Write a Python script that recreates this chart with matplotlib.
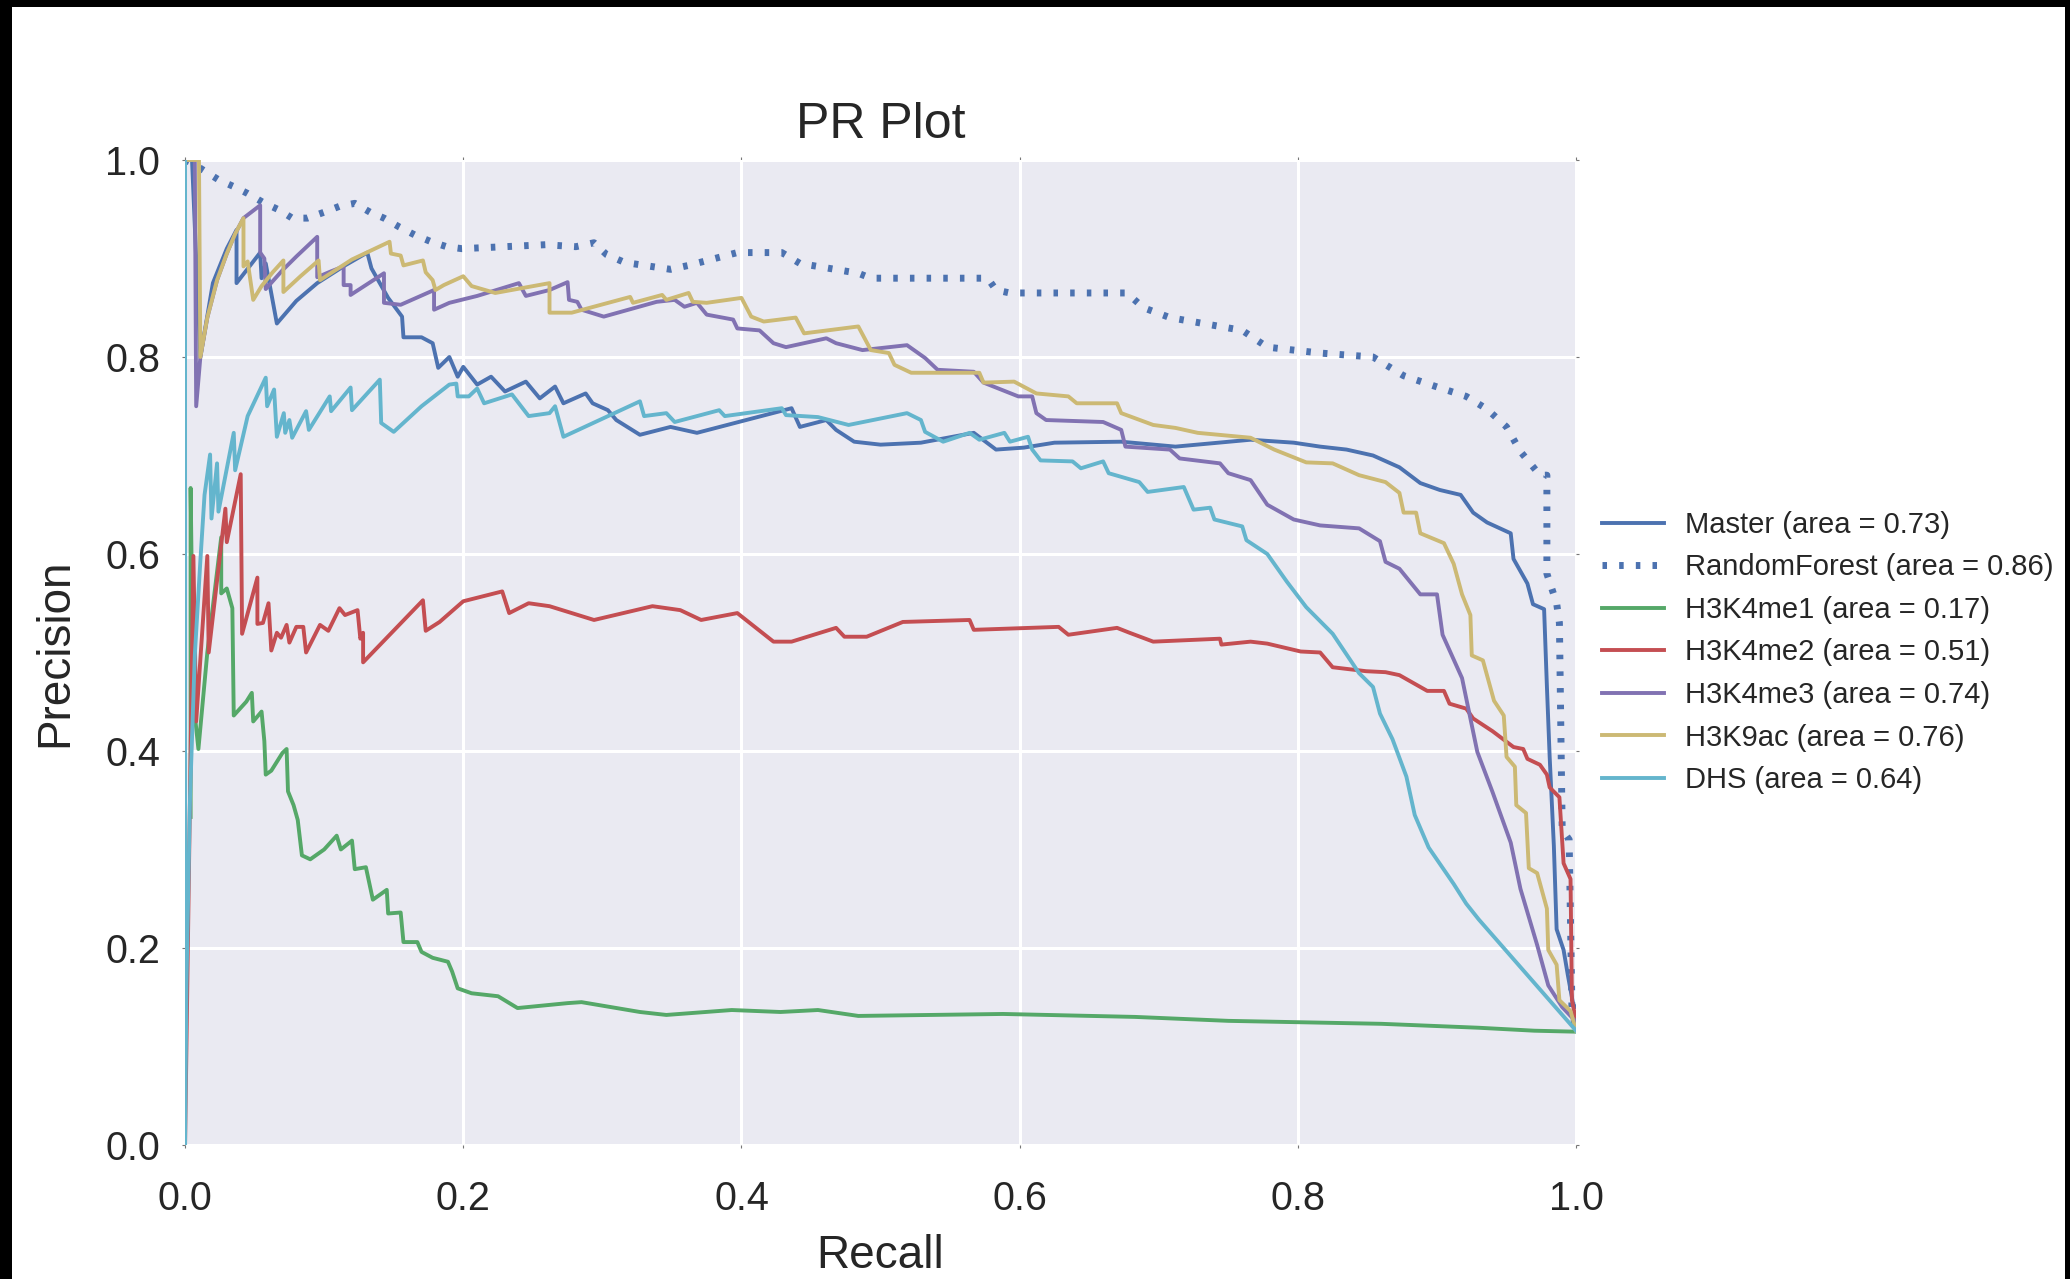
# -*- coding: utf-8 -*-
"""
PR curves for the enhancer classifiers, seaborn darkgrid look.
"""

import matplotlib
matplotlib.use('Agg')
import matplotlib.pyplot as plt
from matplotlib.patches import Rectangle

#  Curve data (recall, precision)

MASTER_RECALL = [0.0, 0.005, 0.011, 0.02, 0.03, 0.037, 0.037, 0.054, 0.055,
                 0.058, 0.066, 0.08, 0.095, 0.115, 0.131, 0.134, 0.14, 0.146,
                 0.156, 0.157, 0.17, 0.178, 0.182, 0.19, 0.196, 0.2, 0.21,
                 0.22, 0.23, 0.245, 0.255, 0.266, 0.272, 0.288, 0.293, 0.304,
                 0.31, 0.327, 0.349, 0.368, 0.436, 0.442, 0.461, 0.468, 0.481,
                 0.5, 0.529, 0.567, 0.583, 0.603, 0.625, 0.673, 0.712, 0.766,
                 0.797, 0.816, 0.835, 0.854, 0.873, 0.888, 0.902, 0.917,
                 0.926, 0.936, 0.953, 0.955, 0.965, 0.969, 0.977, 0.979,
                 0.981, 0.984, 0.986, 0.991, 0.994, 0.998, 1.0]
MASTER_PRECISION = [1.0, 1.0, 0.80, 0.875, 0.91, 0.929, 0.875, 0.906, 0.88,
                    0.895, 0.834, 0.857, 0.875, 0.893, 0.906, 0.89, 0.875,
                    0.86, 0.841, 0.82, 0.82, 0.814, 0.789, 0.80, 0.78, 0.79,
                    0.772, 0.78, 0.765, 0.775, 0.758, 0.770, 0.753, 0.763,
                    0.753, 0.746, 0.736, 0.721, 0.729, 0.723, 0.748, 0.729,
                    0.736, 0.726, 0.714, 0.711, 0.713, 0.723, 0.706, 0.708,
                    0.713, 0.714, 0.709, 0.716, 0.713, 0.709, 0.706, 0.70,
                    0.688, 0.672, 0.665, 0.66, 0.642, 0.632, 0.621, 0.595,
                    0.57, 0.549, 0.544, 0.466, 0.394, 0.304, 0.219, 0.198,
                    0.173, 0.142, 0.14]

RF_RECALL = [0.0, 0.005, 0.015, 0.024, 0.035, 0.045, 0.056, 0.068, 0.077,
             0.088, 0.1, 0.111, 0.122, 0.133, 0.143, 0.154, 0.165, 0.177,
             0.188, 0.199, 0.23, 0.259, 0.281, 0.294, 0.303, 0.316, 0.349,
             0.362, 0.397, 0.429, 0.442, 0.484, 0.493, 0.577, 0.583, 0.593,
             0.677, 0.689, 0.708, 0.76, 0.778, 0.816, 0.854, 0.876, 0.897,
             0.921, 0.936, 0.95, 0.96, 0.974, 0.979, 0.979, 0.986, 0.988,
             0.99, 0.995, 0.997, 1.0]
RF_PRECISION = [1.0, 0.997, 0.988, 0.98, 0.973, 0.966, 0.957, 0.949, 0.941,
                0.941, 0.947, 0.953, 0.956, 0.947, 0.941, 0.932, 0.924,
                0.917, 0.912, 0.91, 0.912, 0.914, 0.912, 0.916, 0.904, 0.896,
                0.889, 0.893, 0.906, 0.906, 0.895, 0.885, 0.880, 0.880,
                0.868, 0.865, 0.865, 0.850, 0.84, 0.827, 0.81, 0.804, 0.80,
                0.781, 0.771, 0.76, 0.747, 0.729, 0.704, 0.68, 0.68, 0.58,
                0.55, 0.53, 0.32, 0.31, 0.14, 0.115]

ME1_RECALL = [0.004, 0.004, 0.006, 0.0096, 0.016, 0.026, 0.026, 0.03, 0.034,
              0.035, 0.044, 0.048, 0.049, 0.055, 0.057, 0.058, 0.062, 0.07,
              0.073, 0.074, 0.078, 0.081, 0.084, 0.09, 0.1, 0.109, 0.112,
              0.12, 0.122, 0.13, 0.135, 0.145, 0.146, 0.155, 0.157, 0.167,
              0.17, 0.178, 0.189, 0.192, 0.196, 0.206, 0.225, 0.239, 0.275,
              0.285, 0.327, 0.346, 0.393, 0.428, 0.455, 0.484, 0.588, 0.683,
              0.75, 0.86, 0.93, 0.97, 1.0]
ME1_PRECISION = [0.333, 0.667, 0.45, 0.402, 0.5, 0.617, 0.56, 0.565, 0.545,
                 0.436, 0.45, 0.459, 0.43, 0.44, 0.41, 0.376, 0.38, 0.398,
                 0.402, 0.359, 0.345, 0.33, 0.294, 0.29, 0.30, 0.314, 0.30,
                 0.309, 0.28, 0.282, 0.249, 0.259, 0.235, 0.236, 0.206,
                 0.206, 0.196, 0.19, 0.186, 0.176, 0.159, 0.154, 0.151,
                 0.139, 0.144, 0.145, 0.135, 0.132, 0.137, 0.135, 0.137,
                 0.131, 0.133, 0.13, 0.126, 0.123, 0.119, 0.116, 0.115]

ME2_RECALL = [0.0, 0.006, 0.008, 0.016, 0.017, 0.029, 0.03, 0.04, 0.041,
              0.052, 0.052, 0.056, 0.06, 0.062, 0.066, 0.069, 0.073, 0.075,
              0.08, 0.085, 0.087, 0.097, 0.103, 0.111, 0.115, 0.124, 0.126,
              0.128, 0.128, 0.171, 0.173, 0.183, 0.2, 0.228, 0.233, 0.247,
              0.262, 0.294, 0.336, 0.356, 0.371, 0.397, 0.423, 0.436, 0.468,
              0.474, 0.49, 0.516, 0.564, 0.567, 0.628, 0.635, 0.67, 0.679,
              0.696, 0.744, 0.745, 0.766, 0.778, 0.802, 0.816, 0.825, 0.849,
              0.863, 0.873, 0.893, 0.905, 0.909, 0.921, 0.926, 0.94, 0.955,
              0.962, 0.965, 0.974, 0.979, 0.981, 0.988, 0.991, 0.996, 0.997,
              1.0]
ME2_PRECISION = [0.0, 0.598, 0.43, 0.598, 0.5, 0.646, 0.612, 0.681, 0.519,
                 0.576, 0.529, 0.53, 0.55, 0.502, 0.52, 0.515, 0.528, 0.51,
                 0.526, 0.526, 0.50, 0.528, 0.522, 0.545, 0.538, 0.543,
                 0.514, 0.52, 0.49, 0.553, 0.522, 0.531, 0.552, 0.562, 0.54,
                 0.55, 0.547, 0.533, 0.547, 0.543, 0.533, 0.54, 0.511, 0.511,
                 0.525, 0.516, 0.516, 0.531, 0.533, 0.523, 0.526, 0.518,
                 0.525, 0.52, 0.511, 0.514, 0.508, 0.511, 0.509, 0.501, 0.50,
                 0.485, 0.481, 0.48, 0.477, 0.461, 0.461, 0.448, 0.443,
                 0.433, 0.42, 0.404, 0.402, 0.392, 0.386, 0.376, 0.363,
                 0.353, 0.286, 0.270, 0.147, 0.126]

ME3_RECALL = [0.0, 0.007, 0.008, 0.011, 0.016, 0.023, 0.03, 0.036, 0.042,
              0.054, 0.054, 0.057, 0.058, 0.07, 0.08, 0.095, 0.095, 0.105,
              0.114, 0.114, 0.119, 0.119, 0.143, 0.143, 0.155, 0.179, 0.179,
              0.19, 0.21, 0.24, 0.245, 0.262, 0.275, 0.276, 0.282, 0.285,
              0.301, 0.339, 0.352, 0.359, 0.368, 0.375, 0.394, 0.397, 0.413,
              0.423, 0.432, 0.461, 0.468, 0.487, 0.519, 0.532, 0.541, 0.567,
              0.574, 0.599, 0.609, 0.612, 0.619, 0.66, 0.673, 0.676, 0.708,
              0.715, 0.744, 0.75, 0.766, 0.778, 0.797, 0.816, 0.844, 0.859,
              0.863, 0.873, 0.888, 0.90, 0.904, 0.918, 0.929, 0.94, 0.953,
              0.96, 0.972, 0.98, 0.99, 1.0]
ME3_PRECISION = [1.0, 1.0, 0.75, 0.80, 0.84, 0.878, 0.905, 0.925, 0.941,
                 0.954, 0.906, 0.90, 0.869, 0.888, 0.902, 0.922, 0.881,
                 0.887, 0.892, 0.873, 0.873, 0.863, 0.885, 0.855, 0.853,
                 0.868, 0.848, 0.855, 0.862, 0.875, 0.862, 0.868, 0.876,
                 0.858, 0.856, 0.848, 0.841, 0.856, 0.858, 0.851, 0.855,
                 0.843, 0.838, 0.829, 0.827, 0.814, 0.810, 0.819, 0.814,
                 0.807, 0.812, 0.799, 0.787, 0.785, 0.774, 0.760, 0.760,
                 0.743, 0.736, 0.734, 0.726, 0.709, 0.706, 0.697, 0.692,
                 0.682, 0.675, 0.65, 0.635, 0.629, 0.626, 0.613, 0.592,
                 0.585, 0.559, 0.559, 0.518, 0.474, 0.399, 0.358, 0.307,
                 0.26, 0.203, 0.162, 0.14, 0.125]

K9AC_RECALL = [0.0, 0.01, 0.011, 0.016, 0.023, 0.03, 0.036, 0.042, 0.042,
               0.045, 0.049, 0.055, 0.063, 0.0707, 0.0707, 0.083, 0.096,
               0.097, 0.12, 0.147, 0.148, 0.155, 0.157, 0.171, 0.173, 0.178,
               0.18, 0.186, 0.2, 0.206, 0.223, 0.262, 0.262, 0.278, 0.32,
               0.322, 0.343, 0.346, 0.362, 0.365, 0.375, 0.4, 0.407, 0.416,
               0.439, 0.445, 0.484, 0.493, 0.506, 0.51, 0.522, 0.571, 0.574,
               0.596, 0.612, 0.635, 0.641, 0.67, 0.673, 0.696, 0.712, 0.728,
               0.766, 0.783, 0.806, 0.825, 0.844, 0.863, 0.873, 0.876, 0.885,
               0.888, 0.905, 0.912, 0.918, 0.924, 0.925, 0.933, 0.941, 0.948,
               0.95, 0.956, 0.957, 0.964, 0.966, 0.972, 0.979, 0.98, 0.986,
               0.988, 0.996, 1.0]
K9AC_PRECISION = [1.0, 1.0, 0.80, 0.84, 0.878, 0.905, 0.925, 0.941, 0.892,
                  0.897, 0.858, 0.872, 0.886, 0.898, 0.866, 0.882, 0.898,
                  0.878, 0.899, 0.917, 0.905, 0.903, 0.893, 0.898, 0.886,
                  0.878, 0.868, 0.873, 0.882, 0.872, 0.865, 0.875, 0.845,
                  0.845, 0.861, 0.855, 0.863, 0.858, 0.865, 0.856, 0.855,
                  0.860, 0.841, 0.836, 0.840, 0.824, 0.831, 0.807, 0.804,
                  0.792, 0.784, 0.784, 0.774, 0.775, 0.763, 0.760, 0.753,
                  0.753, 0.743, 0.731, 0.728, 0.723, 0.718, 0.706, 0.693,
                  0.692, 0.68, 0.673, 0.662, 0.642, 0.642, 0.621, 0.611,
                  0.590, 0.559, 0.538, 0.497, 0.492, 0.451, 0.436, 0.394,
                  0.384, 0.345, 0.337, 0.281, 0.276, 0.24, 0.198, 0.183,
                  0.147, 0.136, 0.116]

DHS_RECALL = [0.0, 0.0, 0.001, 0.0036, 0.007, 0.011, 0.014, 0.018, 0.019,
              0.023, 0.024, 0.035, 0.036, 0.045, 0.058, 0.059, 0.064, 0.066,
              0.071, 0.072, 0.075, 0.077, 0.087, 0.089, 0.104, 0.105, 0.119,
              0.12, 0.14, 0.141, 0.15, 0.17, 0.19, 0.195, 0.196, 0.204, 0.21,
              0.215, 0.235, 0.247, 0.262, 0.266, 0.272, 0.327, 0.33, 0.346,
              0.352, 0.384, 0.388, 0.429, 0.432, 0.455, 0.477, 0.519, 0.529,
              0.532, 0.545, 0.564, 0.571, 0.589, 0.593, 0.606, 0.609, 0.615,
              0.638, 0.644, 0.66, 0.664, 0.686, 0.692, 0.718, 0.725, 0.737,
              0.74, 0.76, 0.763, 0.778, 0.792, 0.806, 0.825, 0.844, 0.854,
              0.859, 0.868, 0.878, 0.884, 0.894, 0.912, 0.921, 0.93, 1.0]
DHS_PRECISION = [1.0, 0.0, 0.163, 0.354, 0.497, 0.593, 0.66, 0.701, 0.636,
                 0.692, 0.643, 0.723, 0.685, 0.74, 0.779, 0.750, 0.767,
                 0.719, 0.743, 0.723, 0.736, 0.718, 0.745, 0.726, 0.760,
                 0.745, 0.769, 0.746, 0.777, 0.733, 0.724, 0.75, 0.772,
                 0.773, 0.76, 0.76, 0.768, 0.753, 0.762, 0.74, 0.743, 0.75,
                 0.719, 0.755, 0.740, 0.743, 0.734, 0.746, 0.740, 0.748,
                 0.741, 0.739, 0.731, 0.743, 0.736, 0.724, 0.714, 0.723,
                 0.716, 0.723, 0.714, 0.719, 0.706, 0.695, 0.694, 0.687,
                 0.694, 0.682, 0.673, 0.663, 0.668, 0.645, 0.647, 0.635,
                 0.628, 0.614, 0.60, 0.572, 0.546, 0.519, 0.479, 0.465,
                 0.438, 0.412, 0.374, 0.335, 0.302, 0.265, 0.245, 0.229,
                 0.116]

LABELS = ['Master (area = 0.73)', 'RandomForest (area = 0.86)',
          'H3K4me1 (area = 0.17)', 'H3K4me2 (area = 0.51)',
          'H3K4me3 (area = 0.74)', 'H3K9ac (area = 0.76)',
          'DHS (area = 0.64)']

#  Old seaborn "deep" palette
BLUE = '#4C72B0'
GREEN = '#55A868'
RED = '#C44E52'
PURPLE = '#8172B2'
YELLOW = '#CCB974'
CYAN = '#64B5CD'

plt.rcParams['font.family'] = ['Liberation Sans', 'DejaVu Sans']
plt.rcParams['text.color'] = '.15'
plt.rcParams['axes.labelcolor'] = '.15'
plt.rcParams['xtick.color'] = '.15'
plt.rcParams['ytick.color'] = '.15'

FIGURE = plt.figure(figsize=(20.7, 12.79), dpi=100)
AXES = FIGURE.add_axes([0.0894, 0.1048, 0.672, 0.7701])

AXES.set_facecolor('#EAEAF2')
for spine in AXES.spines.values():
    spine.set_visible(False)
AXES.grid(True, color='white', linewidth=2.2)
AXES.set_axisbelow(True)

LINE_WIDTH = 2.8
AXES.plot(MASTER_RECALL, MASTER_PRECISION, color=BLUE, lw=LINE_WIDTH,
          label=LABELS[0])
AXES.plot(RF_RECALL, RF_PRECISION, color=BLUE, lw=5.0,
          linestyle=(0, (0.65, 1.75)), dash_capstyle='butt',
          label=LABELS[1])
AXES.plot(ME1_RECALL, ME1_PRECISION, color=GREEN, lw=LINE_WIDTH,
          label=LABELS[2])
AXES.plot(ME2_RECALL, ME2_PRECISION, color=RED, lw=LINE_WIDTH,
          label=LABELS[3])
AXES.plot(ME3_RECALL, ME3_PRECISION, color=PURPLE, lw=LINE_WIDTH,
          label=LABELS[4])
AXES.plot(K9AC_RECALL, K9AC_PRECISION, color=YELLOW, lw=LINE_WIDTH,
          label=LABELS[5])
AXES.plot(DHS_RECALL, DHS_PRECISION, color=CYAN, lw=LINE_WIDTH,
          label=LABELS[6])

AXES.set_xlim(0.0, 1.0)
AXES.set_ylim(0.0, 1.0)
AXES.set_xticks([0.0, 0.2, 0.4, 0.6, 0.8, 1.0])
AXES.set_yticks([0.0, 0.2, 0.4, 0.6, 0.8, 1.0])
AXES.tick_params(axis='both', which='major', labelsize=28.5, length=2,
                 width=0.8, color='#777777', direction='out',
                 top=True, right=True)
AXES.tick_params(axis='x', pad=23)
AXES.tick_params(axis='y', pad=16)

AXES.set_title('PR Plot', fontsize=36, pad=16)
AXES.set_xlabel('Recall', fontsize=33, labelpad=12)
AXES.set_ylabel('Precision', fontsize=33, labelpad=20)

AXES.legend(loc='center left', bbox_to_anchor=(1.0, 0.5), frameon=False,
            fontsize=21, handlelength=2.1, handletextpad=0.75,
            labelspacing=0.5)

#  Black frame round the screenshot
for x_pos, y_pos, width, height in [(0, 0, 0.0058, 1), (0, 0.9945, 1, 0.0055),
                                    (0.9976, 0, 0.0024, 1)]:
    FIGURE.add_artist(Rectangle((x_pos, y_pos), width, height,
                                transform=FIGURE.transFigure,
                                facecolor='black', edgecolor='none'))

plt.savefig('out.png', dpi=100)
